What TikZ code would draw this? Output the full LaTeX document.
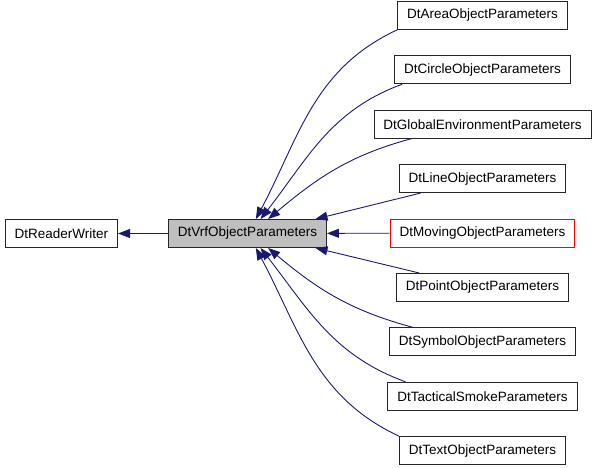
\documentclass[tikz,border=0pt]{standalone}
\usepackage{fontspec}
\setmainfont{Liberation Sans}
\usetikzlibrary{arrows.meta,positioning}
\definecolor{edgeblue}{HTML}{191970}
\definecolor{basegray}{HTML}{BFBFBF}
\definecolor{markred}{HTML}{FF0000}

\begin{document}
\begin{tikzpicture}[>={Triangle[length=12pt,width=9pt]},node distance=25.5pt,
  class node/.style={rectangle,draw=black!85,line width=0.9pt,minimum height=28pt,inner xsep=9.5pt,font=\fontsize{13.5}{16}\selectfont},
  base node/.style={class node,fill=basegray},
  red node/.style={class node,draw=markred},
  every edge/.style={draw=edgeblue,line width=0.9pt,<-}]

	\useasboundingbox (0,0) rectangle (595pt,-467pt);

	\node[base node] (vrf) at (247.5pt,-233.5pt) {DtVrfObjectParameters};
	\node[class node] (reader) [left=50pt of vrf] {DtReaderWriter};
	\node[red node] (moving) at (482.5pt,-233pt) {DtMovingObjectParameters};
	\node[class node] (line) [above=of moving] {DtLineObjectParameters};
	\node[class node] (global) [above=of line] {DtGlobalEnvironmentParameters};
	\node[class node] (circle) [above=of global] {DtCircleObjectParameters};
	\node[class node] (area) [above=of circle] {DtAreaObjectParameters};
	\node[class node] (point) [below=of moving] {DtPointObjectParameters};
	\node[class node] (symbol) [below=of point] {DtSymbolObjectParameters};
	\node[class node] (smoke) [below=of symbol] {DtTacticalSmokeParameters};
	\node[class node] (text) [below=of smoke] {DtTextObjectParameters};

	\path
	(reader) edge (vrf)
	(vrf.60) edge[out=62,in=205] (area.south west)
	(vrf.48) edge[out=52,in=200] ([xshift=8pt]circle.south west)
	(vrf.35) edge[out=40,in=195] ([xshift=38pt]global.south west)
	(vrf.12) edge ([xshift=22pt]line.south west)
	(vrf) edge (moving)
	(vrf.-12) edge ([xshift=23pt]point.north west)
	(vrf.-35) edge[out=-40,in=165] ([xshift=24pt]symbol.north west)
	(vrf.-48) edge[out=-52,in=160] ([xshift=18pt]smoke.north west)
	(vrf.-60) edge[out=-62,in=155] (text.north west);
\end{tikzpicture}
\end{document}
